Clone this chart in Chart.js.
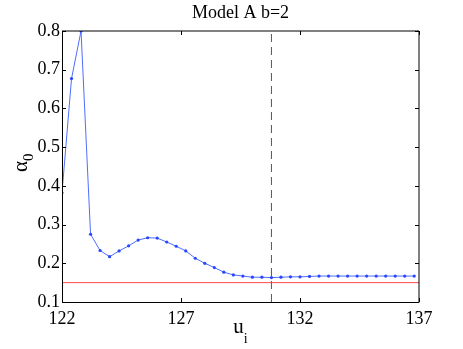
<!DOCTYPE html>
<html>
<head>
<meta charset="utf-8">
<script src="https://cdn.jsdelivr.net/npm/chart.js@4.4.0/dist/chart.umd.min.js"></script>
<style>
html,body{margin:0;padding:0;background:#fff;}
canvas{display:block;}
</style>
</head>
<body>
<canvas id="c" width="463" height="349"></canvas>
<script>
const titleText = "Model A b=2";
const xValues = [122, 122.4, 122.8, 123.2, 123.6, 124, 124.4, 124.8, 125.2, 125.6,
  126, 126.4, 126.8, 127.2, 127.6, 128, 128.4, 128.8, 129.2, 129.6,
  130, 130.4, 130.8, 131.2, 131.6, 132, 132.4, 132.8, 133.2, 133.6,
  134, 134.4, 134.8, 135.2, 135.6, 136, 136.4, 136.8];
const alphaValues = [0.382, 0.677, 0.800, 0.275, 0.233, 0.217, 0.232, 0.245, 0.260, 0.266,
  0.265, 0.255, 0.244, 0.232, 0.213, 0.200, 0.189, 0.177, 0.170, 0.167,
  0.164, 0.164, 0.163, 0.164, 0.165, 0.165, 0.166, 0.167, 0.167, 0.167,
  0.167, 0.167, 0.167, 0.167, 0.167, 0.167, 0.167, 0.167];
const refLevel = [0.15, 0.15];
const refLevelX = [122, 137];
const markerX = [130.8, 130.8];
const markerY = [0.1, 0.8];
const xTicks = [122, 127, 132, 137];
const yTicks = [0.1, 0.2, 0.3, 0.4, 0.5, 0.6, 0.7, 0.8];

const serif = "'Liberation Serif', 'Times New Roman', serif";

const blueData = xValues.map((x, i) => ({x: x, y: alphaValues[i]}));
const redData = refLevelX.map((x, i) => ({x: x, y: refLevel[i]}));
const dashData = markerX.map((x, i) => ({x: x, y: markerY[i]}));

const decor = {
  id: 'decor',
  afterDraw(chart) {
    const ctx = chart.ctx;
    const a = chart.chartArea;
    const xs = chart.scales.x, ys = chart.scales.y;
    ctx.save();
    ctx.strokeStyle = '#000';
    ctx.lineWidth = 1;
    // box
    ctx.beginPath();
    ctx.moveTo(a.left + 0.5, a.top);
    ctx.lineTo(a.left + 0.5, a.bottom + 0.5);
    ctx.lineTo(a.right, a.bottom + 0.5);
    ctx.stroke();
    ctx.beginPath();
    ctx.moveTo(a.left, a.top);
    ctx.lineTo(a.right, a.top);
    ctx.lineTo(a.right, a.bottom + 0.5);
    ctx.stroke();
    // inward ticks
    const tl = 4;
    ctx.beginPath();
    xTicks.forEach(v => {
      const px = Math.round(xs.getPixelForValue(v)) + 0.5;
      ctx.moveTo(px, a.bottom); ctx.lineTo(px, a.bottom - tl);
      ctx.moveTo(px, a.top); ctx.lineTo(px, a.top + tl);
    });
    yTicks.forEach(v => {
      const py = Math.round(ys.getPixelForValue(v)) + 0.5;
      ctx.moveTo(a.left, py); ctx.lineTo(a.left + tl, py);
      ctx.moveTo(a.right, py); ctx.lineTo(a.right - tl, py);
    });
    ctx.stroke();
    // title
    ctx.fillStyle = '#000';
    ctx.textAlign = 'center';
    ctx.textBaseline = 'middle';
    ctx.font = '18px ' + serif;
    ctx.fillText(titleText, (a.left + a.right) / 2, 13);
    // x label u_i
    const cx = (a.left + a.right) / 2;
    ctx.textAlign = 'left';
    ctx.textBaseline = 'alphabetic';
    ctx.font = '21px ' + serif;
    const uw = ctx.measureText('u').width;
    ctx.fillText('u', cx - uw / 2 - 2, 333);
    ctx.font = '14px ' + serif;
    ctx.fillText('i', cx + uw / 2 - 2, 343);
    // y label alpha_0
    ctx.save();
    ctx.translate(27, (a.top + a.bottom) / 2 - 4);
    ctx.rotate(-Math.PI / 2);
    ctx.font = '21px ' + serif;
    const aw = ctx.measureText('α').width;
    ctx.fillText('α', -aw / 2 - 4, 0);
    ctx.font = '15px ' + serif;
    ctx.fillText('0', aw / 2 - 4, 6);
    ctx.restore();
    ctx.restore();
  }
};

new Chart(document.getElementById('c'), {
  type: 'scatter',
  data: {
    datasets: [
      {
        data: blueData, showLine: true,
        borderColor: 'rgb(80,110,255)', borderWidth: 1,
        pointRadius: 1.6, pointBackgroundColor: 'rgb(40,70,255)',
        pointBorderWidth: 0, tension: 0
      },
      {
        data: redData, showLine: true,
        borderColor: 'rgb(255,70,70)', borderWidth: 1, pointRadius: 0
      },
      {
        data: dashData, showLine: true,
        borderColor: '#555', borderWidth: 1, borderDash: [8, 5], pointRadius: 0
      }
    ]
  },
  options: {
    responsive: false,
    animation: false,
    devicePixelRatio: 1,
    layout: {padding: {top: 31, right: 44, left: 0, bottom: 0}},
    plugins: {legend: {display: false}, title: {display: false}, tooltip: {enabled: false}},
    scales: {
      x: {
        type: 'linear', min: 122, max: 137,
        grid: {display: false, drawTicks: false},
        border: {display: false},
        afterBuildTicks: s => { s.ticks = xTicks.map(v => ({value: v})); },
        afterFit: s => { s.height = 47; },
        ticks: {color: '#000', padding: 6, font: {family: serif, size: 18}, callback: v => String(v), maxRotation: 0, autoSkip: false}
      },
      y: {
        type: 'linear', min: 0.1, max: 0.8,
        grid: {display: false, drawTicks: false},
        border: {display: false},
        afterBuildTicks: s => { s.ticks = yTicks.map(v => ({value: v})); },
        afterFit: s => { s.width = 62; },
        ticks: {color: '#000', padding: 2, font: {family: serif, size: 18}, callback: v => Number(v).toFixed(1), autoSkip: false}
      }
    }
  },
  plugins: [decor]
});
</script>
</body>
</html>
